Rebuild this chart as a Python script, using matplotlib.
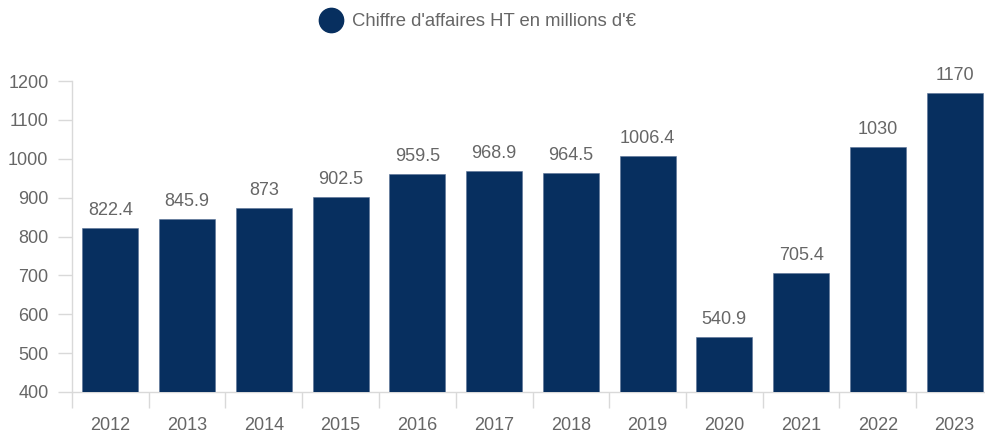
import matplotlib.pyplot as plt
from matplotlib.lines import Line2D
import numpy as np

plt.rcParams['font.family'] = ['Liberation Sans', 'DejaVu Sans']

years = ['2012', '2013', '2014', '2015', '2016', '2017', '2018', '2019',
         '2020', '2021', '2022', '2023']
revenue = [822.4, 845.9, 873, 902.5, 959.5, 968.9, 964.5, 1006.4,
           540.9, 705.4, 1030, 1170]
value_labels = ['822.4', '845.9', '873', '902.5', '959.5', '968.9', '964.5',
                '1006.4', '540.9', '705.4', '1030', '1170']
y_ticks = [400, 500, 600, 700, 800, 900, 1000, 1100, 1200]

bar_color = '#072f5f'
text_color = '#666666'
axis_color = '#d9d9d9'

fig = plt.figure(figsize=(9.85, 4.34), dpi=100)
# plot area runs slightly past the right edge of the canvas
ax = fig.add_axes([72 / 985, 42 / 434, 921 / 985, 311 / 434])

x = np.arange(len(years))
ax.bar(x, np.array(revenue) - 400, bottom=400, width=0.73, color=bar_color,
       edgecolor='#5a7296', linewidth=0.4, zorder=3)

for xi, v, lab in zip(x, revenue, value_labels):
    ax.annotate(lab, (xi, v), xytext=(0, 6.5), textcoords='offset points',
                ha='center', va='bottom', fontsize=13, color=text_color,
                annotation_clip=False)

ax.set_xlim(-0.5, len(years) - 0.5)
ax.set_ylim(400, 1200)
ax.set_yticks(y_ticks)
ax.set_xticks(x)
ax.set_xticklabels(years)
ax.set_xticks(np.arange(len(years) + 1) - 0.5, minor=True)

for side in ['top', 'right']:
    ax.spines[side].set_visible(False)
for side in ['left', 'bottom']:
    ax.spines[side].set_color(axis_color)
    ax.spines[side].set_linewidth(1)

ax.tick_params(axis='y', length=10, width=1, color=axis_color, pad=7,
               labelsize=13, labelcolor=text_color)
ax.tick_params(axis='x', which='major', length=0, pad=18,
               labelsize=13, labelcolor=text_color)
ax.tick_params(axis='x', which='minor', length=11.5, width=1, color=axis_color)

handle = Line2D([], [], marker='o', linestyle='', color=bar_color, markersize=17.5)
fig.legend([handle], ["Chiffre d'affaires HT en millions d'€"],
           loc='center', bbox_to_anchor=(476 / 985, 1 - 22 / 434), frameon=False,
           fontsize=13.3, labelcolor=text_color, handletextpad=0.3,
           handlelength=1.6)

fig.savefig('out.png', dpi=100)
